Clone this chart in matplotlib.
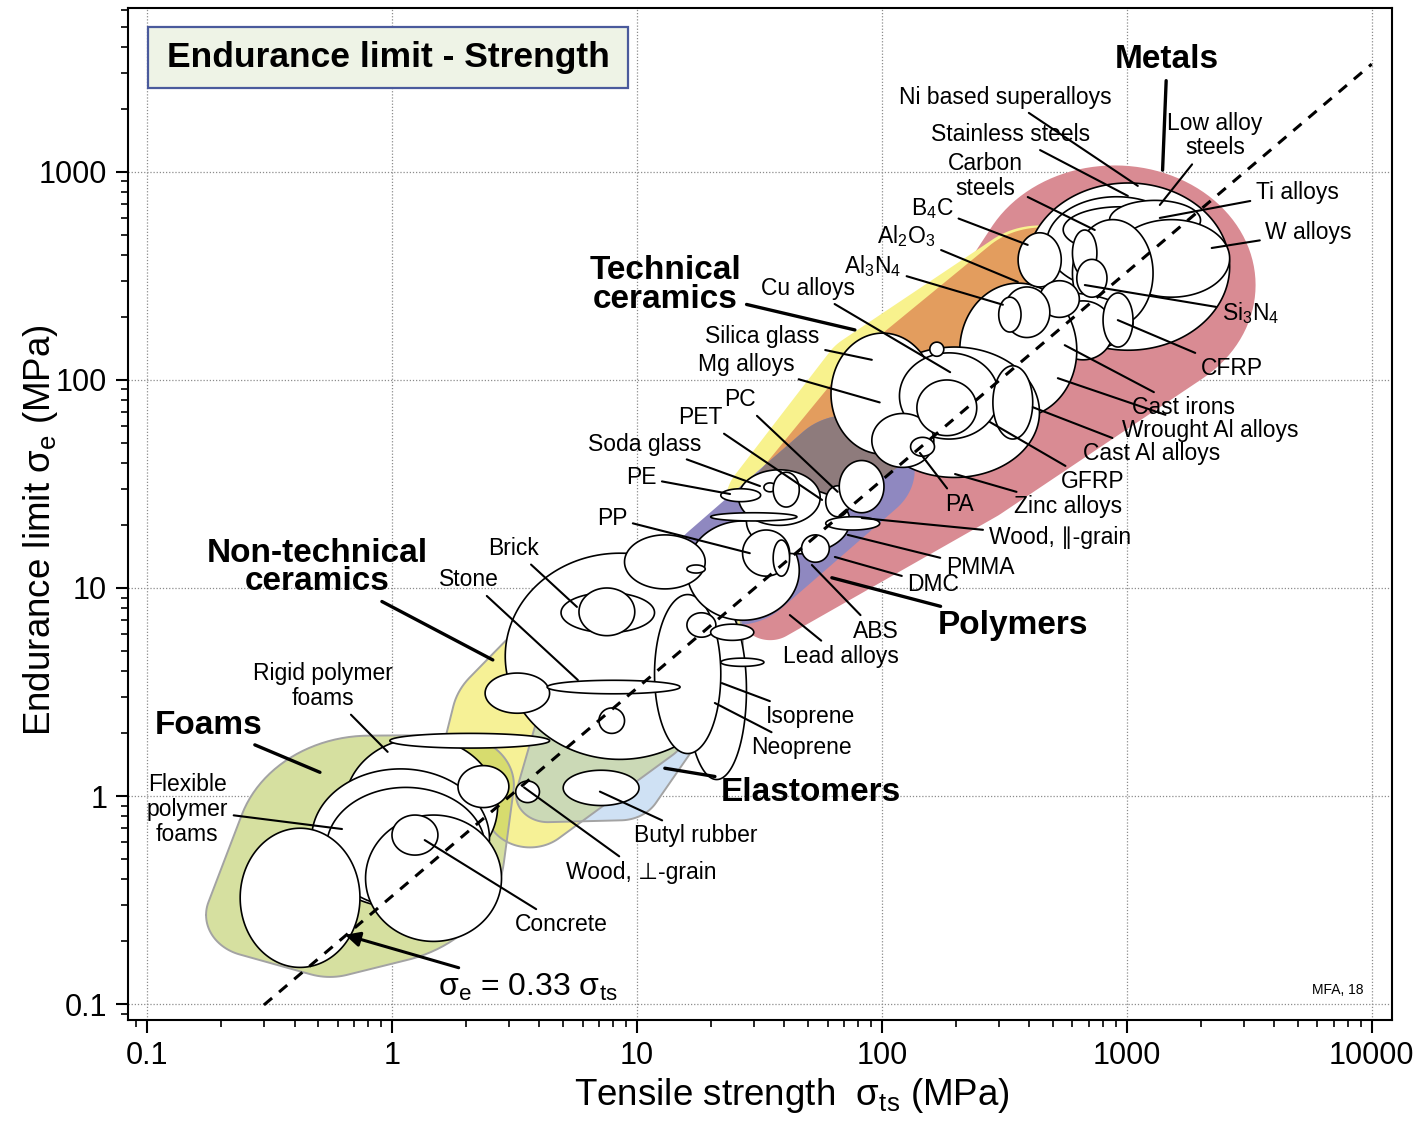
import numpy as np
import matplotlib
matplotlib.use('Agg')
import matplotlib.pyplot as plt
from matplotlib.patches import Rectangle
from matplotlib.ticker import LogLocator, NullFormatter

plt.rcParams['font.family'] = ['Liberation Sans', 'DejaVu Sans']
plt.rcParams['mathtext.fontset'] = 'custom'
plt.rcParams['mathtext.rm'] = 'Liberation Sans'
plt.rcParams['mathtext.it'] = 'Liberation Sans:italic'
plt.rcParams['mathtext.bf'] = 'Liberation Sans:bold'

# ---------------------------------------------------------------------------
# Material bubbles: tensile strength range and endurance limit range (MPa).
# Drawn in list order, later bubbles sit on top of earlier ones.
# ---------------------------------------------------------------------------
bubble_ts_lo = [0.64, 0.47, 0.54, 0.24, 0.78, 1.0, 0.98, 1.86, 3.2, 5.0,
                2.9, 16, 11.8, 2.4, 4.3, 4.9, 5.8, 7.0,
                16, 20, 20, 22, 16, 8.9, 16, 28, 26, 27, 36, 47, 22, 33, 36, 59, 67, 20, 59,
                390, 470, 550, 850, 880, 600, 300, 500, 208, 89, 62, 118, 284, 91, 139, 131, 157,
                360, 440, 315, 300, 600, 625, 800]
bubble_ts_hi = [2.7, 2.5, 2.4, 0.74, 2.8, 1.54, 4.4, 3.0, 4.0, 10.2,
                25, 28, 22, 4.4, 15, 11.8, 9.8, 8.9,
                21, 30, 25, 33, 46, 19, 19, 74, 56, 42, 42, 61, 32, 37, 46, 74, 102, 45, 98,
                2630, 1760, 1600, 2000, 2630, 1280, 1060, 880, 625, 440, 164, 300, 413, 163, 244, 164, 179,
                540, 640, 485, 370, 755, 830, 1060]
bubble_e_lo = [0.42, 0.29, 0.29, 0.15, 0.20, 0.52, 1.7, 0.88, 0.93, 0.9,
               1.5, 1.2, 1.6, 2.5, 3.1, 6.1, 5.9, 2.0,
               5.8, 5.6, 7.6, 4.2, 7.0, 9.9, 11.8, 14.6, 20, 11.4, 11.4, 13.3, 26, 29, 24.5, 22, 23, 21, 19,
               139, 270, 410, 470, 250, 180, 135, 125, 66, 34, 44, 52, 52, 38, 54, 43, 130,
               280, 200, 160, 170, 316, 250, 144]
bubble_e_hi = [1.9, 1.35, 1.1, 0.70, 0.81, 0.81, 2.0, 1.4, 1.18, 1.33,
               14.7, 8.7, 9.3, 3.9, 3.6, 9.5, 10, 2.65,
               7.6, 6.7, 9.1, 4.6, 21, 18, 12.9, 30, 37, 19, 17, 18, 30, 32, 36, 31, 41, 23, 22,
               885, 760, 680, 730, 590, 590, 262, 240, 292, 144, 168, 135, 117, 69, 100, 53, 152,
               510, 300, 280, 250, 526, 380, 262]

# ---------------------------------------------------------------------------
# Family envelopes: anchor circles (centre ts, centre e in MPa, radius in decades)
# ---------------------------------------------------------------------------
metals_env = ([35, 208, 893], [7.4, 37, 286], [0.12, 0.27, 0.575])
techcer_env = ([38.4, 98, 442], [26.5, 100, 271], [0.22, 0.245, 0.31])
composite_env = ([44.2, 108, 452], [29.6, 94.6, 265], [0.17, 0.20, 0.31])
polymer_env = ([25.1, 74], [12.2, 36.9], [0.265, 0.265])
nontech_env = ([10.3, 3.66, 2.08, 3.66, 10.0],
               [5.62, 2.32, 1.49, 0.857, 2.3],
               [0.42, 0.32, 0.12, 0.18, 0.22])
foam_env = ([0.813, 0.276, 0.558, 1.81],
            [0.550, 0.268, 0.240, 1.13],
            [0.55, 0.20, 0.25, 0.24])
elast_env = ([4.33, 8.53, 15.0, 7.06, 18.1],
             [1.01, 1.13, 3.23, 2.32, 7.02],
             [0.13, 0.17, 0.19, 0.25, 0.15])

# guideline sigma_e = 0.33 sigma_ts
guide_ratio = 0.33
guide_ts = [0.3, 10000]

# labels: text, position (axes fraction), target (ts, e in MPa), is_family
labels = [
    ('Metals', 0.822, 0.949, 1400, 1020, True),
    ('Ni based superalloys', 0.694, 0.912, 1109, 857, False),
    ('Stainless steels', 0.698, 0.875, 1010, 767, False),
    ('Low alloy\nsteels', 0.860, 0.874, 1364, 694, False),
    ('Carbon\nsteels', 0.678, 0.834, 740, 526, False),
    ('Ti alloys', 0.925, 0.818, 1364, 601, False),
    ('W alloys', 0.934, 0.778, 2222, 431, False),
    ('B$_4$C', 0.636, 0.802, 394, 446, False),
    ('Al$_2$O$_3$', 0.616, 0.775, 359, 296, False),
    ('Al$_3$N$_4$', 0.589, 0.745, 312, 230, False),
    ('Cu alloys', 0.538, 0.723, 190, 109, False),
    ('Technical\nceramics', 0.425, 0.726, 77.6, 174, True),
    ('Silica glass', 0.502, 0.675, 91, 125, False),
    ('Mg alloys', 0.489, 0.648, 98, 78, False),
    ('PC', 0.484, 0.613, 66, 29, False),
    ('PET', 0.453, 0.595, 57, 26.5, False),
    ('Soda glass', 0.409, 0.569, 31.8, 30.9, False),
    ('PE', 0.406, 0.536, 24, 28.3, False),
    ('PP', 0.383, 0.496, 28.9, 14.7, False),
    ('Si$_3$N$_4$', 0.888, 0.699, 674, 286, False),
    ('CFRP', 0.873, 0.644, 919, 194, False),
    ('Cast irons', 0.835, 0.605, 558, 147, False),
    ('Wrought Al alloys', 0.856, 0.583, 523, 102, False),
    ('Cast Al alloys', 0.810, 0.560, 413, 74, False),
    ('GFRP', 0.763, 0.532, 276, 62.8, False),
    ('Zinc alloys', 0.744, 0.507, 199, 35.3, False),
    ('PA', 0.658, 0.509, 143, 44.6, False),
    ('Wood, \u2225-grain', 0.737, 0.477, 82.8, 21.7, False),
    ('PMMA', 0.674, 0.447, 72.6, 18.0, False),
    ('DMC', 0.637, 0.430, 64.3, 14.1, False),
    ('Polymers', 0.700, 0.390, 62.5, 11.2, True),
    ('ABS', 0.592, 0.384, 51.8, 12.9, False),
    ('Lead alloys', 0.564, 0.359, 42.1, 7.41, False),
    ('Isoprene', 0.540, 0.300, 22.2, 3.49, False),
    ('Neoprene', 0.533, 0.269, 20.8, 2.80, False),
    ('Elastomers', 0.540, 0.225, 13.0, 1.36, True),
    ('Butyl rubber', 0.449, 0.182, 7.06, 1.05, False),
    ('Wood, \u22a5-grain', 0.406, 0.146, 3.46, 1.10, False),
    ('Concrete', 0.343, 0.094, 1.36, 0.614, False),
    ('Brick', 0.305, 0.466, 5.69, 8.11, False),
    ('Stone', 0.270, 0.435, 5.74, 3.61, False),
    ('Non-technical\nceramics', 0.150, 0.447, 2.58, 4.51, True),
    ('Rigid polymer\nfoams', 0.154, 0.330, 0.96, 1.63, False),
    ('Foams', 0.064, 0.291, 0.508, 1.30, True),
    ('Flexible\npolymer\nfoams', 0.047, 0.208, 0.625, 0.694, False),
]


def convex_hull(p):
    """Monotone chain convex hull of an (n, 2) array."""
    pts = sorted(map(tuple, p))

    def cross(o, a, b):
        return (a[0] - o[0]) * (b[1] - o[1]) - (a[1] - o[1]) * (b[0] - o[0])

    lower, upper = [], []
    for q in pts:
        while len(lower) >= 2 and cross(lower[-2], lower[-1], q) <= 0:
            lower.pop()
        lower.append(q)
    for q in reversed(pts):
        while len(upper) >= 2 and cross(upper[-2], upper[-1], q) <= 0:
            upper.pop()
        upper.append(q)
    return np.array(lower[:-1] + upper[:-1])


def envelope(env, n=120):
    """Smooth hull round the anchor circles (log space), back in MPa."""
    t = np.linspace(0, 2 * np.pi, n, endpoint=False)
    pts = []
    for x, y, r in zip(*env):
        pts.append(np.column_stack([np.log10(x) + r * np.cos(t),
                                    np.log10(y) + r * np.sin(t)]))
    h = convex_hull(np.vstack(pts))
    return 10 ** h[:, 0], 10 ** h[:, 1]


fig = plt.figure(figsize=(14.16, 11.23), dpi=100)
ax = fig.add_axes([128 / 1416, 103 / 1123, 1264 / 1416, 1012 / 1123])
ax.set_xscale('log')
ax.set_yscale('log')
ax.set_xlim(0.0836, 12100)
ax.set_ylim(0.0838, 6140)

# envelopes
mx, my = envelope(metals_env)
ax.fill(mx, my, color='#d98b93', lw=0, zorder=1.0)
tx, ty = envelope(techcer_env)
ax.fill(tx, ty, color='#f8f28d', lw=0, zorder=1.1)
cx_, cy_ = envelope(composite_env)
ax.fill(cx_, cy_, color='#e39d5e', lw=0, zorder=1.2)
px_, py_ = envelope(polymer_env)
poly_patch = ax.fill(px_, py_, color='#8f88c0', lw=0, zorder=1.3)[0]
ov = ax.fill(cx_, cy_, color='#8e7b7c', lw=0, zorder=1.35)[0]
ov.set_clip_path(poly_patch)

nx, ny = envelope(nontech_env)
nt_patch = ax.fill(nx, ny, color='#f6f196', lw=0, zorder=1.4)[0]
fx_, fy_ = envelope(foam_env)
ax.fill(fx_, fy_, color='#d6e0a0', lw=0, zorder=1.5)
ov2 = ax.fill(fx_, fy_, color='#d7dc6e', lw=0, zorder=1.55)[0]
ov2.set_clip_path(nt_patch)
ex, ey = envelope(elast_env)
ax.fill(ex, ey, color='#cfe1f4', lw=0, zorder=1.6)
ov3 = ax.fill(ex, ey, color='#cbd9b6', lw=0, zorder=1.65)[0]
ov3.set_clip_path(nt_patch)
for xx, yy in [(nx, ny), (fx_, fy_), (ex, ey)]:
    ax.plot(np.append(xx, xx[0]), np.append(yy, yy[0]), color='#a3a3a3', lw=1.4, zorder=1.8)

# bubbles
t = np.linspace(0, 2 * np.pi, 200)
for i, (a, b, c, d) in enumerate(zip(bubble_ts_lo, bubble_ts_hi, bubble_e_lo, bubble_e_hi)):
    lx0, hx = (np.log10(a) + np.log10(b)) / 2, (np.log10(b) - np.log10(a)) / 2
    ly0, hy = (np.log10(c) + np.log10(d)) / 2, (np.log10(d) - np.log10(c)) / 2
    ax.fill(10 ** (lx0 + hx * np.cos(t)), 10 ** (ly0 + hy * np.sin(t)),
            facecolor='white', edgecolor='black', lw=1.2, zorder=3 + i * 0.01)

# guideline
gx = np.array(guide_ts)
ax.plot(gx, guide_ratio * gx, color='black', lw=2.2, dashes=(3.5, 3), zorder=6)

# labels with leader lines
for text, fx, fy, lx, ly, fam in labels:
    ax.annotate(text, xy=(lx, ly), xycoords='data', xytext=(fx, fy), textcoords='axes fraction',
                ha='center', va='center', fontsize=24 if fam else 16.5,
                fontweight='bold' if fam else 'normal', linespacing=0.9 if fam else 1.1,
                arrowprops=dict(arrowstyle='-', lw=2.4 if fam else 1.5, color='black',
                                shrinkA=2, shrinkB=0), zorder=8)

ax.annotate('\u03c3$_{\\rm e}$ = 0.33 \u03c3$_{\\rm ts}$', xy=(0.643, 0.215), xycoords='data',
            xytext=(0.316, 0.032), textcoords='axes fraction', ha='center', va='center',
            fontsize=23, zorder=8,
            arrowprops=dict(arrowstyle='-|>', lw=2.2, color='black', mutation_scale=22,
                            shrinkA=4, shrinkB=0))

ax.add_patch(Rectangle((0.0158, 0.921), 0.3798, 0.060, transform=ax.transAxes,
                       fc='#eef3e6', ec='#4a5a9c', lw=1.6, zorder=9))
ax.text(0.2057, 0.951, 'Endurance limit - Strength', transform=ax.transAxes, ha='center',
        va='center', fontsize=25.5, fontweight='bold', zorder=10)
ax.text(0.957, 0.030, 'MFA, 18', transform=ax.transAxes, ha='center', va='center',
        fontsize=10, zorder=9)

# axes styling
ax.set_axisbelow(True)
ax.grid(True, which='major', color='#8c8c8c', lw=0.9, ls=(0, (1, 1.5)))
ax.set_xticks([0.1, 1, 10, 100, 1000, 10000])
ax.set_xticklabels(['0.1', '1', '10', '100', '1000', '10000'])
ax.set_yticks([0.1, 1, 10, 100, 1000])
ax.set_yticklabels(['0.1', '1', '10', '100', '1000'])
ax.xaxis.set_minor_locator(LogLocator(base=10, subs=np.arange(2, 10)))
ax.yaxis.set_minor_locator(LogLocator(base=10, subs=np.arange(2, 10)))
ax.xaxis.set_minor_formatter(NullFormatter())
ax.yaxis.set_minor_formatter(NullFormatter())
ax.tick_params(which='major', direction='out', length=9, width=1.5, labelsize=22, pad=6)
ax.tick_params(which='minor', direction='out', length=5, width=1.2)
for s in ax.spines.values():
    s.set_linewidth(1.5)

ax.set_xlabel('Tensile strength  \u03c3$_{\\rm ts}$ (MPa)', fontsize=26.5)
ax.set_ylabel('Endurance limit \u03c3$_{\\rm e}$ (MPa)', fontsize=26.5)
ax.xaxis.set_label_coords(0.525, -0.055)
ax.yaxis.set_label_coords(-0.054, 0.484)

fig.savefig('out.png', dpi=100)
